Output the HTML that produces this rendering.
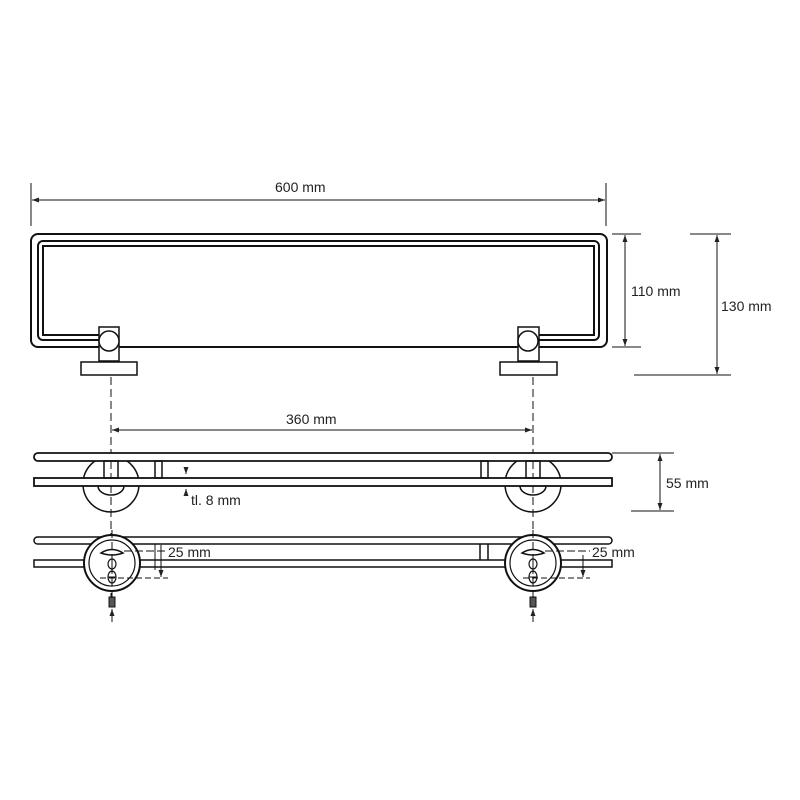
<!DOCTYPE html>
<html><head><meta charset="utf-8"><style>
html,body{margin:0;padding:0;background:#fff}
svg{display:block}
text{font-family:"Liberation Sans",sans-serif;font-size:14px;fill:#222}
</style></head><body>
<svg width="800" height="800" viewBox="0 0 800 800" xmlns="http://www.w3.org/2000/svg">
<defs>
<marker id="a" markerWidth="8" markerHeight="8" refX="7" refY="4" orient="auto-start-reverse" markerUnits="userSpaceOnUse"><path d="M0,1.5 L7,4 L0,6.5z" fill="#222"/></marker>
</defs>
<g fill="none" stroke="#111" stroke-width="1">
<line x1="31" y1="183" x2="31" y2="226"/><line x1="606" y1="183" x2="606" y2="226"/>
<line x1="32" y1="200" x2="605" y2="200" marker-start="url(#a)" marker-end="url(#a)"/>
<rect x="31" y="234" width="576" height="113" rx="7" stroke-width="2"/>
<path d="M99,340 H43 a5,5 0 0 1 -5,-5 V246 a5,5 0 0 1 5,-5 H594 a5,5 0 0 1 5,5 V335 a5,5 0 0 1 -5,5 H536" stroke-width="2"/>
<path d="M99,335 H43 V246 H594 V335 H536" stroke-width="2"/>
<rect x="99" y="327" width="20" height="34" fill="#fff" stroke-width="1.5"/>
<circle cx="109" cy="341" r="10" fill="#fff" stroke-width="1.5"/>
<rect x="81" y="362" width="56" height="13" fill="#fff" stroke-width="1.5"/>
<rect x="518" y="327" width="21" height="34" fill="#fff" stroke-width="1.5"/>
<circle cx="528" cy="341" r="10" fill="#fff" stroke-width="1.5"/>
<rect x="500" y="362" width="57" height="13" fill="#fff" stroke-width="1.5"/>
<line x1="612" y1="234" x2="641" y2="234"/><line x1="612" y1="347" x2="641" y2="347"/>
<line x1="625" y1="235" x2="625" y2="346" marker-start="url(#a)" marker-end="url(#a)"/>
<line x1="690" y1="234" x2="731" y2="234"/><line x1="634" y1="375" x2="731" y2="375"/>
<line x1="717" y1="235" x2="717" y2="374" marker-start="url(#a)" marker-end="url(#a)"/>
<line x1="111" y1="377" x2="111" y2="600" stroke-dasharray="8,4"/>
<line x1="533" y1="377" x2="533" y2="600" stroke-dasharray="8,4"/>
<line x1="112" y1="430" x2="532" y2="430" marker-start="url(#a)" marker-end="url(#a)"/>
<circle cx="111" cy="484" r="28" stroke-width="1.5"/>
<circle cx="533" cy="484" r="28" stroke-width="1.5"/>
<rect x="34" y="453" width="578" height="8" rx="4" fill="#fff" stroke-width="1.8"/>
<rect x="34" y="478" width="578" height="8" fill="#fff" stroke-width="1.8"/>
<path d="M98,486 a13,9 0 0 0 26,0" stroke-width="1.5"/><path d="M520,486 a13,9 0 0 0 26,0" stroke-width="1.5"/>
<rect x="104" y="461" width="14" height="17" stroke-width="1.5"/><rect x="526" y="461" width="14" height="17" stroke-width="1.5"/>
<rect x="155" y="461" width="7" height="17" stroke-width="1.5"/><rect x="481" y="461" width="7" height="17" stroke-width="1.5"/>
<line x1="186" y1="467" x2="186" y2="474" marker-end="url(#a)"/>
<line x1="186" y1="496" x2="186" y2="489" marker-end="url(#a)"/>
<line x1="612" y1="453" x2="674" y2="453"/><line x1="631" y1="511" x2="674" y2="511"/>
<line x1="660" y1="454" x2="660" y2="510" marker-start="url(#a)" marker-end="url(#a)"/>
<rect x="34" y="537" width="578" height="7" rx="3.5" stroke-width="1.5"/>
<rect x="34" y="560" width="578" height="7" stroke-width="1.5"/>
<line x1="480" y1="544" x2="480" y2="560" stroke-width="1.5"/><line x1="488" y1="544" x2="488" y2="560" stroke-width="1.5"/>
<g id="b">
<circle cx="112" cy="563" r="28" fill="#fff" stroke-width="2"/>
<circle cx="112" cy="563" r="23" stroke-width="1.2"/>
<path d="M101,553 q11,-7 22,0 q-11,4 -22,0z" stroke-width="1.5"/>
<ellipse cx="112" cy="564" rx="4" ry="5" stroke-width="1.2"/><line x1="112" y1="560" x2="112" y2="568"/>
<ellipse cx="112" cy="577" rx="4" ry="6" stroke-width="1.2"/><line x1="108" y1="577" x2="116" y2="577"/>
<rect x="109" y="597" width="6" height="10" fill="#555" stroke-width="1"/>
<line x1="112" y1="622" x2="112" y2="609" marker-end="url(#a)"/>
<line x1="112" y1="530" x2="112" y2="600" stroke-dasharray="8,4"/>
</g>
<line x1="100" y1="578" x2="168" y2="578" stroke-dasharray="6,3"/>
<line x1="124" y1="551" x2="168" y2="551" stroke-dasharray="8,3"/>
<line x1="155" y1="544" x2="155" y2="570"/><line x1="161" y1="545" x2="161" y2="577" marker-end="url(#a)"/>
<use href="#b" x="421"/>
<line x1="523" y1="578" x2="590" y2="578" stroke-dasharray="6,3"/>
<line x1="545" y1="551" x2="590" y2="551" stroke-dasharray="8,3"/>
<line x1="583" y1="555" x2="583" y2="577" marker-end="url(#a)"/>
</g>
<text x="275" y="192">600 mm</text>
<text x="631" y="296">110 mm</text>
<text x="721" y="311">130 mm</text>
<text x="286" y="424">360 mm</text>
<text x="666" y="488">55 mm</text>
<text x="191" y="505">tl. 8 mm</text>
<text x="168" y="557">25 mm</text>
<text x="592" y="557">25 mm</text>
</svg>
</body></html>
